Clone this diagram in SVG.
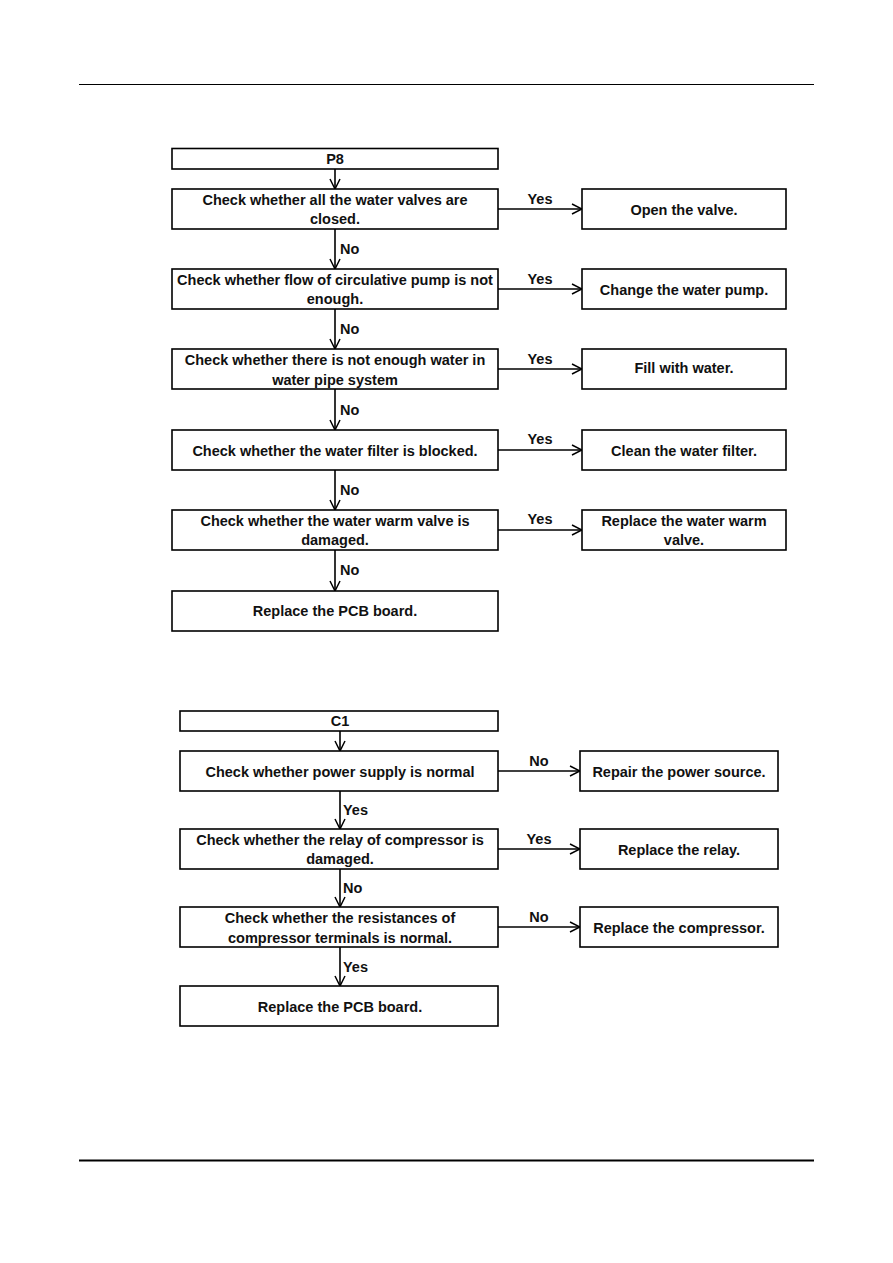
<svg xmlns="http://www.w3.org/2000/svg" width="893" height="1263" viewBox="0 0 893 1263">
<defs>
<marker id="ah" viewBox="0 0 12 12" refX="11" refY="6" markerWidth="12" markerHeight="12" markerUnits="userSpaceOnUse" orient="auto">
<path d="M1,1 L11,6 L1,11" fill="none" stroke="#000" stroke-width="1.5"/>
</marker>
<style>
.b{fill:#fff;stroke:#000;stroke-width:1.6}
.t{font-family:"Liberation Sans",Arial,sans-serif;font-weight:bold;font-size:14.5px;text-anchor:middle;fill:#111}
.l{font-family:"Liberation Sans",Arial,sans-serif;font-weight:bold;font-size:14.5px;fill:#111}
.c{stroke:#000;stroke-width:1.6;fill:none;marker-end:url(#ah)}
</style>
</defs>
<rect width="893" height="1263" fill="#fff"/>
<line x1="79" y1="84.5" x2="814" y2="84.5" stroke="#000" stroke-width="1.2"/>
<line x1="79" y1="1160.5" x2="814" y2="1160.5" stroke="#000" stroke-width="2.2"/>

<g id="connectors">
<line class="c" x1="335" y1="169" x2="335" y2="189"/>
<line class="c" x1="335" y1="229" x2="335" y2="269"/>
<line class="c" x1="335" y1="309" x2="335" y2="349"/>
<line class="c" x1="335" y1="389" x2="335" y2="430"/>
<line class="c" x1="335" y1="470" x2="335" y2="510"/>
<line class="c" x1="335" y1="550" x2="335" y2="591"/>
<line class="c" x1="498" y1="209" x2="582" y2="209"/>
<line class="c" x1="498" y1="289" x2="582" y2="289"/>
<line class="c" x1="498" y1="369" x2="582" y2="369"/>
<line class="c" x1="498" y1="450" x2="582" y2="450"/>
<line class="c" x1="498" y1="530" x2="582" y2="530"/>
<text class="l" x="340" y="254">No</text>
<text class="l" x="340" y="334">No</text>
<text class="l" x="340" y="415">No</text>
<text class="l" x="340" y="495">No</text>
<text class="l" x="340" y="575">No</text>
<text class="t" x="540" y="204">Yes</text>
<text class="t" x="540" y="284">Yes</text>
<text class="t" x="540" y="364">Yes</text>
<text class="t" x="540" y="444">Yes</text>
<text class="t" x="540" y="524">Yes</text>

<line class="c" x1="340" y1="731" x2="340" y2="751"/>
<line class="c" x1="340" y1="791" x2="340" y2="829"/>
<line class="c" x1="340" y1="869" x2="340" y2="907"/>
<line class="c" x1="340" y1="947" x2="340" y2="986"/>
<line class="c" x1="498" y1="771" x2="580" y2="771"/>
<line class="c" x1="498" y1="849" x2="580" y2="849"/>
<line class="c" x1="498" y1="927" x2="580" y2="927"/>
<text class="l" x="343" y="815">Yes</text>
<text class="l" x="343" y="893">No</text>
<text class="l" x="343" y="972">Yes</text>
<text class="t" x="539" y="766">No</text>
<text class="t" x="539" y="844">Yes</text>
<text class="t" x="539" y="922">No</text>
</g>

<g id="p8"><rect class="b" x="172" y="148.5" width="326" height="20.5"/><text class="t" x="335" y="164">P8</text></g>
<g id="q1"><rect class="b" x="172" y="189" width="326" height="40"/><text class="t" x="335" y="205">Check whether all the water valves are</text><text class="t" x="335" y="224">closed.</text></g>
<g id="a1"><rect class="b" x="582" y="189" width="204" height="40"/><text class="t" x="684" y="215">Open the valve.</text></g>
<g id="q2"><rect class="b" x="172" y="269" width="326" height="40"/><text class="t" x="335" y="285">Check whether flow of circulative pump is not</text><text class="t" x="335" y="304">enough.</text></g>
<g id="a2"><rect class="b" x="582" y="269" width="204" height="40"/><text class="t" x="684" y="295">Change the water pump.</text></g>
<g id="q3"><rect class="b" x="172" y="349" width="326" height="40"/><text class="t" x="335" y="365">Check whether there is not enough water in</text><text class="t" x="335" y="385">water pipe system</text></g>
<g id="a3"><rect class="b" x="582" y="349" width="204" height="40"/><text class="t" x="684" y="373">Fill with water.</text></g>
<g id="q4"><rect class="b" x="172" y="430" width="326" height="40"/><text class="t" x="335" y="456">Check whether the water filter is blocked.</text></g>
<g id="a4"><rect class="b" x="582" y="430" width="204" height="40"/><text class="t" x="684" y="456">Clean the water filter.</text></g>
<g id="q5"><rect class="b" x="172" y="510" width="326" height="40"/><text class="t" x="335" y="526">Check whether the water warm valve is</text><text class="t" x="335" y="545">damaged.</text></g>
<g id="a5"><rect class="b" x="582" y="510" width="204" height="40"/><text class="t" x="684" y="526">Replace the water warm</text><text class="t" x="684" y="545">valve.</text></g>
<g id="r1"><rect class="b" x="172" y="591" width="326" height="40"/><text class="t" x="335" y="616">Replace the PCB board.</text></g>

<g id="c1"><rect class="b" x="180" y="711" width="318" height="20"/><text class="t" x="340" y="726">C1</text></g>
<g id="k1"><rect class="b" x="180" y="751" width="318" height="40"/><text class="t" x="340" y="777">Check whether power supply is normal</text></g>
<g id="b1"><rect class="b" x="580" y="751" width="198" height="40"/><text class="t" x="679" y="777">Repair the power source.</text></g>
<g id="k2"><rect class="b" x="180" y="829" width="318" height="40"/><text class="t" x="340" y="845">Check whether the relay of compressor is</text><text class="t" x="340" y="864">damaged.</text></g>
<g id="b2"><rect class="b" x="580" y="829" width="198" height="40"/><text class="t" x="679" y="855">Replace the relay.</text></g>
<g id="k3"><rect class="b" x="180" y="907" width="318" height="40"/><text class="t" x="340" y="923">Check whether the resistances of</text><text class="t" x="340" y="943">compressor terminals is normal.</text></g>
<g id="b3"><rect class="b" x="580" y="907" width="198" height="40"/><text class="t" x="679" y="933">Replace the compressor.</text></g>
<g id="k4"><rect class="b" x="180" y="986" width="318" height="40"/><text class="t" x="340" y="1012">Replace the PCB board.</text></g>
</svg>
